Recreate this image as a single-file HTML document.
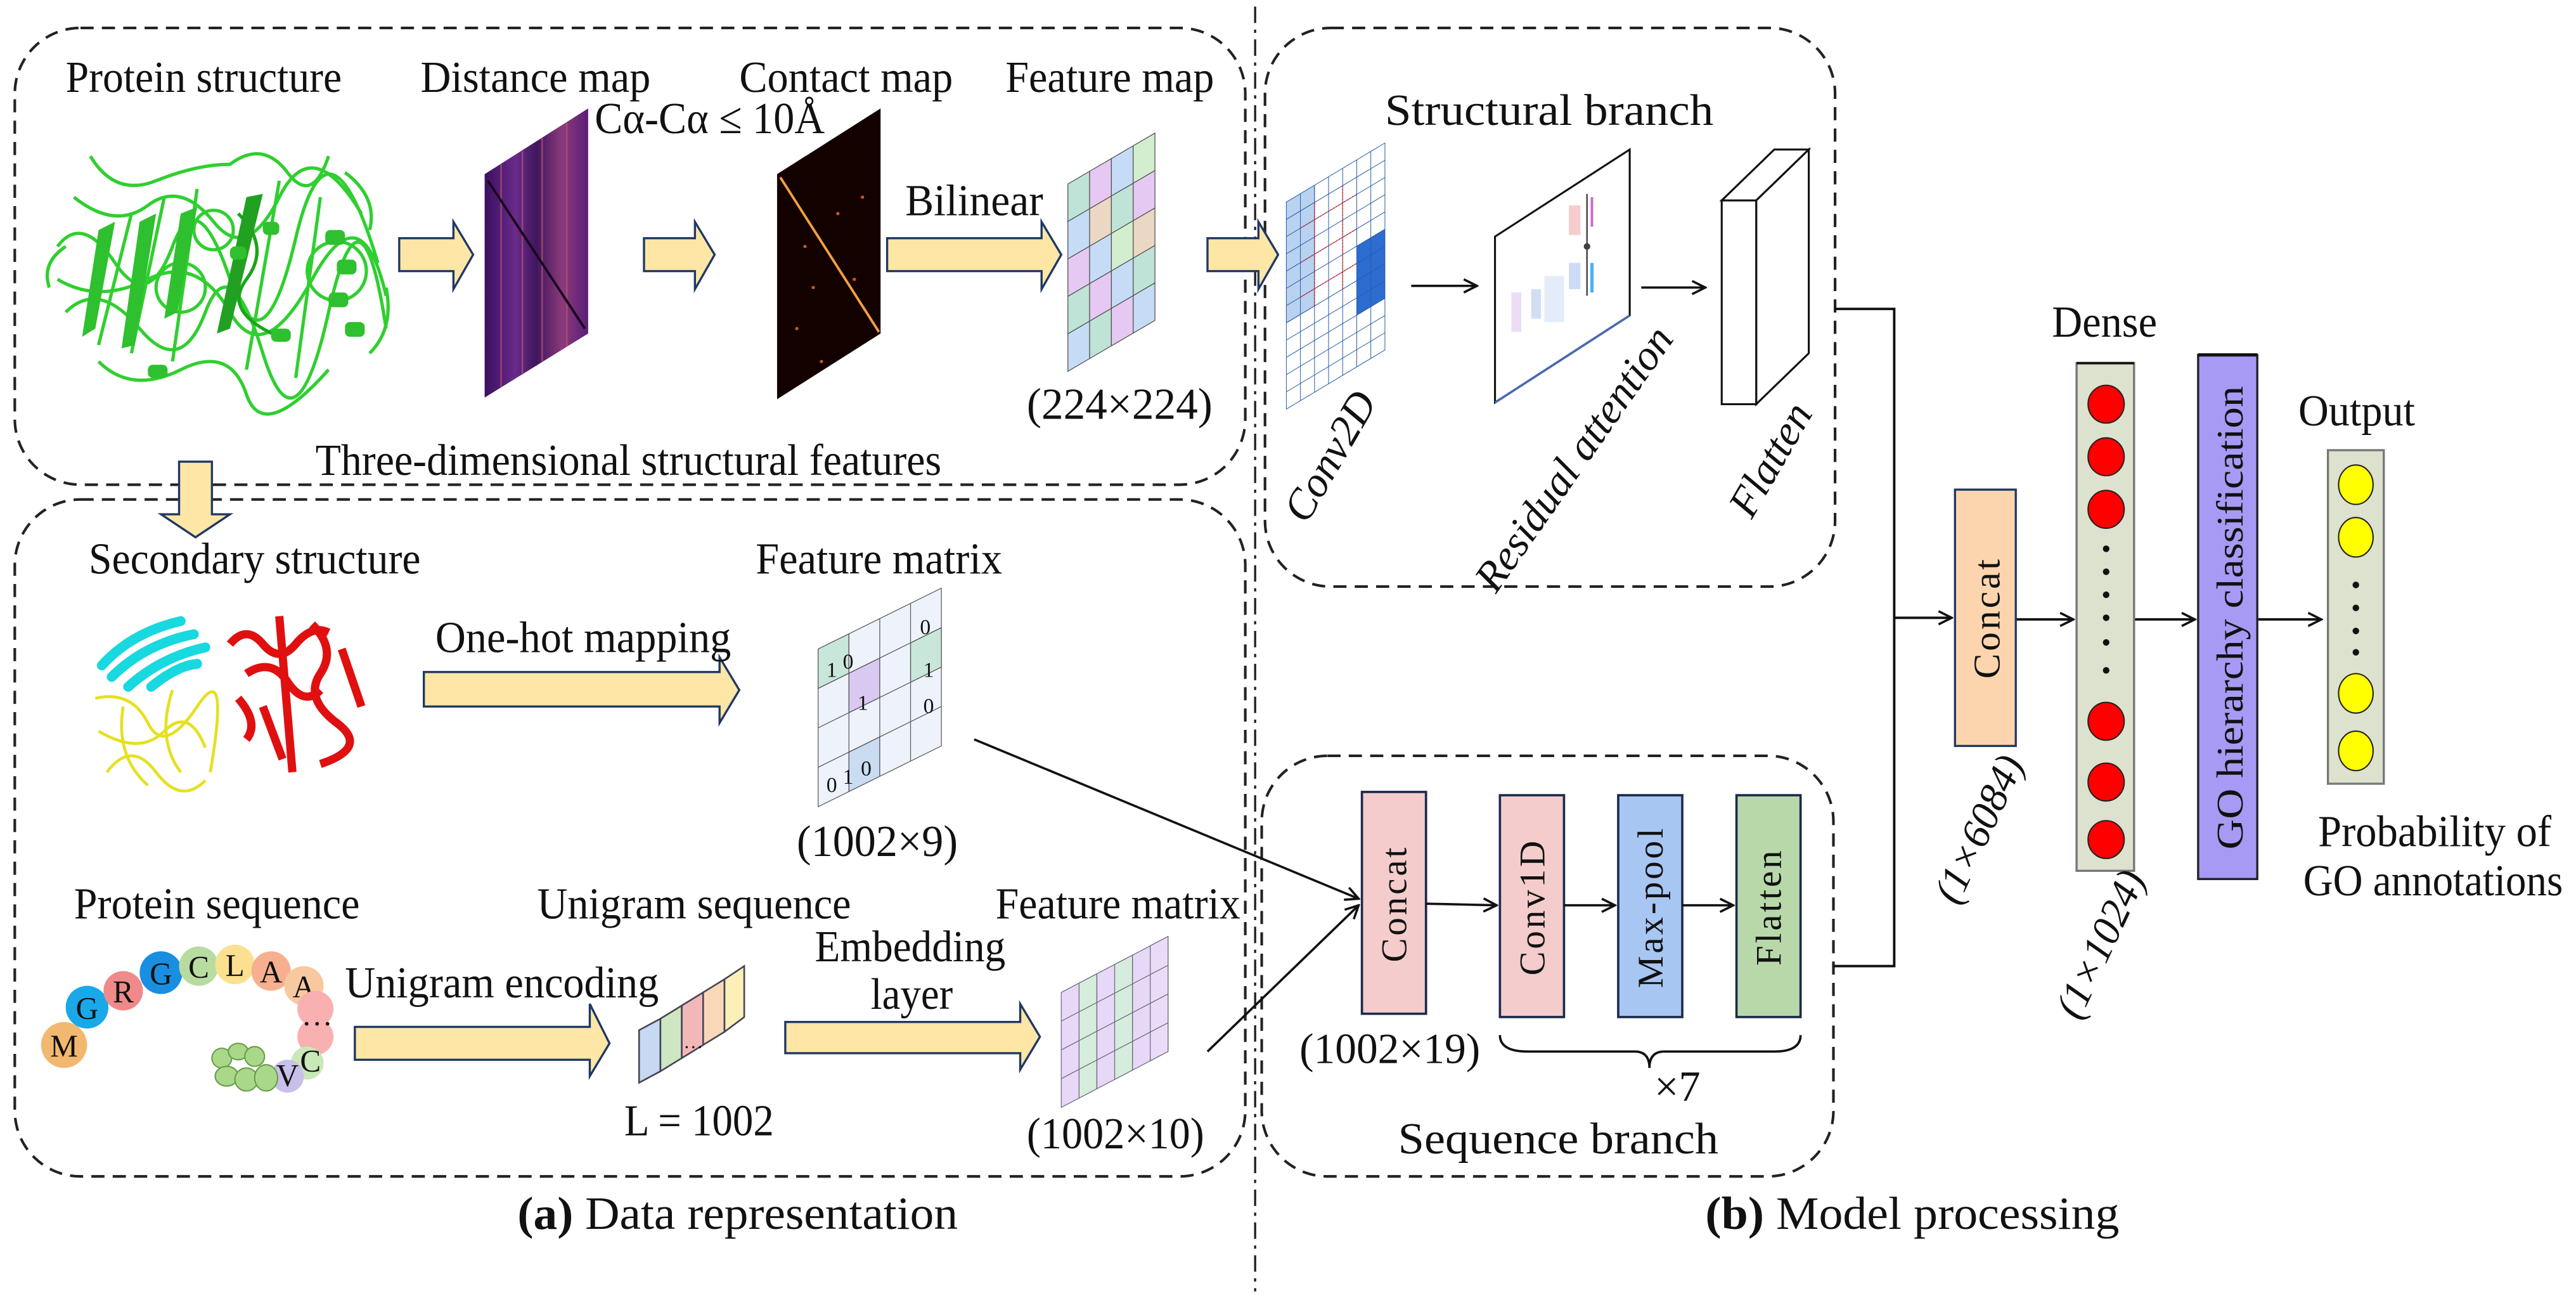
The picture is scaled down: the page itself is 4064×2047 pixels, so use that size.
<!DOCTYPE html>
<html><head><meta charset="utf-8"><style>
html,body{margin:0;padding:0;background:#fff;}
svg{display:block;}
text{font-family:"Liberation Serif",serif;fill:#111;}
</style></head><body>
<svg width="4064" height="2047" viewBox="0 0 1568 790" preserveAspectRatio="none" xmlns="http://www.w3.org/2000/svg">
<defs>
<marker id="ah" markerWidth="10" markerHeight="10" refX="9" refY="5" orient="auto" markerUnits="userSpaceOnUse">
<path d="M1,1 L9,5 L1,9" fill="none" stroke="#111" stroke-width="1.4"/></marker>
<linearGradient id="dist" x1="0" y1="0" x2="1" y2="0">
<stop offset="0" stop-color="#3a1060"/><stop offset="0.3" stop-color="#6a2a8a"/><stop offset="0.5" stop-color="#40165e"/><stop offset="0.75" stop-color="#8a3a7a"/><stop offset="1" stop-color="#5a1e78"/></linearGradient>
</defs>
<rect width="1568" height="790" fill="#fff"/>

<g fill="none" stroke="#222" stroke-width="1.6" stroke-dasharray="8 5">
<rect x="9" y="17" width="749" height="278" rx="40"/>
<rect x="9" y="304" width="749" height="412" rx="40"/>
<rect x="770" y="17" width="347" height="340" rx="40"/>
<rect x="768" y="460" width="348" height="256" rx="40"/>
</g>
<line x1="764" y1="4" x2="764" y2="786" stroke="#222" stroke-width="1.3" stroke-dasharray="10 4 2 4"/>

<text x="40" y="56" font-size="27" textLength="168" lengthAdjust="spacingAndGlyphs">Protein structure</text>
<text x="256" y="56" font-size="27" textLength="140" lengthAdjust="spacingAndGlyphs">Distance map</text>
<text x="450" y="56" font-size="27" textLength="130" lengthAdjust="spacingAndGlyphs">Contact map</text>
<text x="612" y="56" font-size="27" textLength="127" lengthAdjust="spacingAndGlyphs">Feature map</text>
<text x="362" y="81" font-size="27" textLength="140" lengthAdjust="spacingAndGlyphs">Cα-Cα ≤ 10Å</text>
<text x="551" y="131" font-size="27" textLength="84" lengthAdjust="spacingAndGlyphs">Bilinear</text>
<text x="625" y="255" font-size="27" textLength="113" lengthAdjust="spacingAndGlyphs">(224×224)</text>
<text x="192" y="289" font-size="27" textLength="381" lengthAdjust="spacingAndGlyphs">Three-dimensional structural features</text>

<g fill="none" stroke="#2fcf2f" stroke-width="2">
<path d="M55 95 Q70 120 95 110 T140 100 Q160 85 175 105 T200 95"/>
<path d="M35 150 Q50 130 70 160 T105 150 T140 170 T180 145 T230 160"/>
<path d="M40 190 Q60 170 85 200 T125 190 T160 215 T200 190 T235 200"/>
<path d="M60 220 Q80 240 110 225 T150 240 T200 225"/>
<path d="M45 120 Q70 140 90 125 T130 135 T170 120 T220 130"/>
<path d="M35 170 Q60 185 90 170 T140 190 T190 170 T235 180"/>
<path d="M80 130 L60 210 M100 120 L80 215 M120 115 L105 220 M170 110 L150 225 M195 120 L180 230"/>
<path d="M145 130 Q165 150 150 170 T170 205" stroke="#1aa51a"/>
<circle cx="205" cy="165" r="18"/><circle cx="110" cy="175" r="15"/><circle cx="130" cy="140" r="12"/>
<path d="M30 175 Q25 160 40 150 M210 105 Q230 120 225 140 M235 175 Q240 200 225 215"/>
</g>
<g fill="#2ec02e">
<rect x="198" y="140" width="12" height="9" rx="3"/><rect x="205" y="158" width="12" height="9" rx="3"/><rect x="200" y="178" width="12" height="9" rx="3"/><rect x="210" y="196" width="12" height="9" rx="3"/>
<path d="M60 140 L70 135 L58 200 L50 205Z"/><path d="M85 135 L95 130 L82 210 L74 212Z"/><path d="M150 120 L160 118 L140 200 L132 203Z" fill="#22a022"/>
<path d="M110 130 L120 126 L108 190 L100 194Z"/>
<rect x="140" y="150" width="10" height="8" rx="3"/><rect x="160" y="135" width="10" height="8" rx="3"/><rect x="165" y="200" width="12" height="8" rx="3"/><rect x="90" y="222" width="12" height="8" rx="3"/>
</g>

<g fill="#fde6a6" stroke="#1f3864" stroke-width="1.3">
<path d="M243 145 H276 V135 L288 155 L276 176 V165 H243Z"/>
<path d="M392 145 H423 V135 L435 155 L423 176 V165 H392Z"/>
<path d="M540 145 H634 V135 L646 155 L634 176 V165 H540Z"/>
<path d="M735 145 H766 V135 L778 155 L766 176 V165 H735Z"/>
<path d="M109 281 H129 V313 H140 L119 327 L98 313 H109Z"/>
<path d="M258 409 H438 V400 L450 420 L438 440 V430 H258Z"/>
<path d="M216 625 H359 V611 L371 635 L359 655 V645 H216Z"/>
<path d="M478 622 H621 V611 L633 631 L621 651 V641 H478Z"/>
</g>

<polygon points="295,106 358,66 358,203 295,242" fill="url(#dist)"/>
<g stroke="#c05a70" stroke-width="1" opacity="0.6">
<line x1="305" y1="100" x2="305" y2="236"/><line x1="318" y1="92" x2="318" y2="228"/><line x1="330" y1="84" x2="330" y2="220"/><line x1="345" y1="75" x2="345" y2="211"/></g>
<line x1="297" y1="110" x2="356" y2="200" stroke="#1a0520" stroke-width="1.5"/>
<polygon points="473,106 536,66 536,203 473,243" fill="#130100"/>
<line x1="475" y1="108" x2="535" y2="202" stroke="#f4a040" stroke-width="1.5"/>
<g fill="#d05a10"><circle cx="490" cy="150" r="1"/><circle cx="510" cy="130" r="1"/><circle cx="520" cy="170" r="1"/><circle cx="485" cy="200" r="1"/><circle cx="500" cy="220" r="1"/><circle cx="525" cy="120" r="1"/><circle cx="495" cy="175" r="1"/></g>

<g transform="matrix(13.25,-7.75,0,22.8,650,112)" stroke="#555" stroke-width="1.3">
<rect x="0" y="0" width="1" height="1" fill="#bfe3d6" vector-effect="non-scaling-stroke"/><rect x="1" y="0" width="1" height="1" fill="#e6c9f2" vector-effect="non-scaling-stroke"/><rect x="2" y="0" width="1" height="1" fill="#c6dcf6" vector-effect="non-scaling-stroke"/><rect x="3" y="0" width="1" height="1" fill="#d2eecf" vector-effect="non-scaling-stroke"/>
<rect x="0" y="1" width="1" height="1" fill="#c6dcf6" vector-effect="non-scaling-stroke"/><rect x="1" y="1" width="1" height="1" fill="#ead8c4" vector-effect="non-scaling-stroke"/><rect x="2" y="1" width="1" height="1" fill="#bfe3d6" vector-effect="non-scaling-stroke"/><rect x="3" y="1" width="1" height="1" fill="#e6c9f2" vector-effect="non-scaling-stroke"/>
<rect x="0" y="2" width="1" height="1" fill="#e6c9f2" vector-effect="non-scaling-stroke"/><rect x="1" y="2" width="1" height="1" fill="#c6dcf6" vector-effect="non-scaling-stroke"/><rect x="2" y="2" width="1" height="1" fill="#d2eecf" vector-effect="non-scaling-stroke"/><rect x="3" y="2" width="1" height="1" fill="#ead8c4" vector-effect="non-scaling-stroke"/>
<rect x="0" y="3" width="1" height="1" fill="#bfe3d6" vector-effect="non-scaling-stroke"/><rect x="1" y="3" width="1" height="1" fill="#e6c9f2" vector-effect="non-scaling-stroke"/><rect x="2" y="3" width="1" height="1" fill="#c6dcf6" vector-effect="non-scaling-stroke"/><rect x="3" y="3" width="1" height="1" fill="#bfe3d6" vector-effect="non-scaling-stroke"/>
<rect x="0" y="4" width="1" height="1" fill="#c6dcf6" vector-effect="non-scaling-stroke"/><rect x="1" y="4" width="1" height="1" fill="#bfe3d6" vector-effect="non-scaling-stroke"/><rect x="2" y="4" width="1" height="1" fill="#e6c9f2" vector-effect="non-scaling-stroke"/><rect x="3" y="4" width="1" height="1" fill="#c6dcf6" vector-effect="non-scaling-stroke"/>
</g>

<text x="54" y="349" font-size="27" textLength="202" lengthAdjust="spacingAndGlyphs">Secondary structure</text>
<text x="460" y="349" font-size="27" textLength="150" lengthAdjust="spacingAndGlyphs">Feature matrix</text>
<text x="265" y="397" font-size="27" textLength="180" lengthAdjust="spacingAndGlyphs">One-hot mapping</text>
<g fill="none" stroke="#18d8e0" stroke-width="6" stroke-linecap="round">
<path d="M62 405 Q80 385 110 378"/><path d="M68 412 Q88 392 118 386"/><path d="M78 418 Q98 400 125 394"/><path d="M92 418 Q108 405 120 404"/></g>
<g fill="none" stroke="#e01010" stroke-width="5">
<path d="M140 392 Q150 380 160 392 T180 392 T200 385" /><path d="M170 375 L178 470"/><path d="M190 380 Q205 395 195 410 T205 440 T195 465"/><path d="M150 410 Q165 400 175 415 T195 420"/><path d="M160 430 L172 462"/><path d="M208 395 L220 430"/><path d="M145 425 Q158 440 150 450"/></g>
<g fill="none" stroke="#e6e020" stroke-width="1.8">
<path d="M58 425 Q80 420 90 440 T120 430 T128 470"/><path d="M60 445 Q85 460 100 445 T125 455"/><path d="M65 470 Q80 450 95 470 T125 475"/><path d="M75 430 Q70 460 90 478"/><path d="M105 420 Q95 450 110 470"/></g>

<g transform="matrix(18.75,-9.25,0,24,498,395)">
<g fill="#eef2fb" stroke="#555" stroke-width="1.2">
<rect x="0" y="0" width="4" height="4" vector-effect="non-scaling-stroke"/>
<rect x="0" y="0" width="1" height="1" fill="#c9e6da" vector-effect="non-scaling-stroke"/><rect x="1" y="1" width="1" height="1" fill="#d9c9f0" vector-effect="non-scaling-stroke"/><rect x="3" y="1" width="1" height="1" fill="#c9e6da" vector-effect="non-scaling-stroke"/><rect x="1" y="3" width="1" height="1" fill="#c9dcf2" vector-effect="non-scaling-stroke"/>
<line x1="1" y1="0" x2="1" y2="4" vector-effect="non-scaling-stroke"/><line x1="2" y1="0" x2="2" y2="4" vector-effect="non-scaling-stroke"/><line x1="3" y1="0" x2="3" y2="4" vector-effect="non-scaling-stroke"/>
<line x1="0" y1="1" x2="4" y2="1" vector-effect="non-scaling-stroke"/><line x1="0" y1="2" x2="4" y2="2" vector-effect="non-scaling-stroke"/><line x1="0" y1="3" x2="4" y2="3" vector-effect="non-scaling-stroke"/>
</g></g>
<g font-size="13">
<text x="503" y="412">1</text><text x="513" y="407">0</text><text x="560" y="386">0</text>
<text x="522" y="432">1</text><text x="562" y="412">1</text><text x="562" y="434">0</text>
<text x="503" y="482">0</text><text x="513" y="477">1</text><text x="524" y="472">0</text></g>
<text x="485" y="521" font-size="27" textLength="98" lengthAdjust="spacingAndGlyphs">(1002×9)</text>

<text x="45" y="559" font-size="27" textLength="174" lengthAdjust="spacingAndGlyphs">Protein sequence</text>
<text x="327" y="559" font-size="27" textLength="191" lengthAdjust="spacingAndGlyphs">Unigram sequence</text>
<text x="606" y="559" font-size="27" textLength="149" lengthAdjust="spacingAndGlyphs">Feature matrix</text>
<text x="496" y="585" font-size="27" textLength="116" lengthAdjust="spacingAndGlyphs">Embedding</text>
<text x="530" y="614" font-size="27" textLength="50" lengthAdjust="spacingAndGlyphs">layer</text>
<text x="210" y="607" font-size="27" textLength="191" lengthAdjust="spacingAndGlyphs">Unigram encoding</text>
<text x="380" y="691" font-size="27" textLength="91" lengthAdjust="spacingAndGlyphs">L = 1002</text>
<text x="625" y="699" font-size="27" textLength="108" lengthAdjust="spacingAndGlyphs">(1002×10)</text>

<g font-size="19" text-anchor="middle">
<circle cx="39" cy="636" r="14" fill="#f2b870"/><text x="39" y="643">M</text>
<circle cx="53" cy="613" r="13" fill="#1aa8e8"/><text x="53" y="620">G</text>
<circle cx="75" cy="603" r="12" fill="#f08a8a"/><text x="75" y="610">R</text>
<circle cx="98" cy="592" r="13" fill="#1a8ee0"/><text x="98" y="599">G</text>
<circle cx="121" cy="588" r="12" fill="#b8dca0"/><text x="121" y="595">C</text>
<circle cx="143" cy="587" r="12" fill="#fbe090"/><text x="143" y="594">L</text>
<circle cx="165" cy="591" r="12" fill="#f6b090"/><text x="165" y="598">A</text>
<circle cx="185" cy="600" r="12" fill="#f8c8a0"/><text x="185" y="607">A</text>
<circle cx="192" cy="614" r="11" fill="#f8b0b0"/>
<circle cx="192" cy="631" r="11" fill="#f8b0b0"/><text x="193" y="624">…</text>
<circle cx="187" cy="647" r="10" fill="#c8e8b8"/><text x="189" y="652">C</text>
<circle cx="175" cy="655" r="10" fill="#c8c0e8"/><text x="175" y="661">V</text>
</g>
<g fill="#a8d888" stroke="#6a9a4a" stroke-width="0.8">
<ellipse cx="135" cy="644" rx="6" ry="6"/><ellipse cx="145" cy="640" rx="6" ry="5"/><ellipse cx="155" cy="643" rx="6" ry="6"/><ellipse cx="138" cy="655" rx="7" ry="6"/><ellipse cx="150" cy="657" rx="7" ry="7"/><ellipse cx="162" cy="656" rx="7" ry="8"/></g>

<g stroke="#445" stroke-width="1">
<polygon points="389,627 402,620 402,652 389,659" fill="#c6d8f2"/>
<polygon points="402,620 415,612 415,644 402,652" fill="#cfe6c2"/>
<polygon points="415,612 428,604 428,636 415,644" fill="#f2b8b8"/>
<polygon points="428,604 441,596 441,628 428,636" fill="#f8d8b8"/>
<polygon points="441,596 453,588 453,619 441,628" fill="#fbf0b8"/>
</g>
<text x="416" y="638" font-size="12">…</text>

<g transform="matrix(10.83,-5.67,0,17.5,646,604)">
<g fill="#e6d8f6" stroke="#667" stroke-width="1.2">
<rect x="0" y="0" width="6" height="4" vector-effect="non-scaling-stroke"/>
<rect x="1" y="0" width="1" height="4" fill="#d6ecdc" vector-effect="non-scaling-stroke"/><rect x="3" y="0" width="1" height="4" fill="#d6ecdc" vector-effect="non-scaling-stroke"/><rect x="5" y="0" width="1" height="4" fill="#eadcf8" vector-effect="non-scaling-stroke"/>
<line x1="2" y1="0" x2="2" y2="4" vector-effect="non-scaling-stroke"/><line x1="4" y1="0" x2="4" y2="4" vector-effect="non-scaling-stroke"/>
<line x1="0" y1="1" x2="6" y2="1" vector-effect="non-scaling-stroke"/><line x1="0" y1="2" x2="6" y2="2" vector-effect="non-scaling-stroke"/><line x1="0" y1="3" x2="6" y2="3" vector-effect="non-scaling-stroke"/>
</g></g>

<text x="315" y="748" font-size="28" textLength="268" lengthAdjust="spacingAndGlyphs"><tspan font-weight="bold">(a)</tspan> Data representation</text>

<text x="843" y="76" font-size="27" textLength="200" lengthAdjust="spacingAndGlyphs">Structural branch</text>
<g transform="matrix(8.57,-5.14,0,10.5,783,123)">
<g fill="#fff" stroke="#2a5ca8" stroke-width="1">
<rect x="0" y="0" width="7" height="12" vector-effect="non-scaling-stroke"/>
<rect x="0" y="0" width="2" height="7" fill="#b8d2f0" vector-effect="non-scaling-stroke"/>
<rect x="5" y="5" width="2" height="4" fill="#2d6cd0" vector-effect="non-scaling-stroke"/>
<line x1="1" y1="0" x2="1" y2="12" vector-effect="non-scaling-stroke"/><line x1="2" y1="0" x2="2" y2="12" vector-effect="non-scaling-stroke"/><line x1="3" y1="0" x2="3" y2="12" vector-effect="non-scaling-stroke"/><line x1="4" y1="0" x2="4" y2="12" vector-effect="non-scaling-stroke"/><line x1="5" y1="0" x2="5" y2="12" vector-effect="non-scaling-stroke"/><line x1="6" y1="0" x2="6" y2="12" vector-effect="non-scaling-stroke"/>
<line x1="0" y1="1" x2="7" y2="1" vector-effect="non-scaling-stroke"/><line x1="0" y1="2" x2="7" y2="2" vector-effect="non-scaling-stroke"/><line x1="0" y1="3" x2="7" y2="3" vector-effect="non-scaling-stroke"/><line x1="0" y1="4" x2="7" y2="4" vector-effect="non-scaling-stroke"/><line x1="0" y1="5" x2="7" y2="5" vector-effect="non-scaling-stroke"/><line x1="0" y1="6" x2="7" y2="6" vector-effect="non-scaling-stroke"/><line x1="0" y1="7" x2="7" y2="7" vector-effect="non-scaling-stroke"/><line x1="0" y1="8" x2="7" y2="8" vector-effect="non-scaling-stroke"/><line x1="0" y1="9" x2="7" y2="9" vector-effect="non-scaling-stroke"/><line x1="0" y1="10" x2="7" y2="10" vector-effect="non-scaling-stroke"/><line x1="0" y1="11" x2="7" y2="11" vector-effect="non-scaling-stroke"/>
</g>
<g fill="none" stroke="#e02020" stroke-width="1.5" stroke-dasharray="3 2">
<path d="M1 2 L5 2 M1 4 L5 4 M1 6 L5 6 M2 1 L2 7 M4 1 L4 7" vector-effect="non-scaling-stroke"/></g>
</g>
<line x1="859" y1="174" x2="899" y2="174" stroke="#111" stroke-width="1.4" marker-end="url(#ah)"/>
<polygon points="910,144 992,91 992,192 910,245" fill="#fff" stroke="#111" stroke-width="1.2"/>
<line x1="910" y1="245" x2="992" y2="192" stroke="#4a6ab0" stroke-width="1.4"/>
<g opacity="0.8">
<rect x="955" y="125" width="7" height="18" fill="#f4c0c0"/><rect x="955" y="160" width="7" height="16" fill="#c0d4f4"/>
<rect x="920" y="178" width="6" height="24" fill="#e6d4f0"/><rect x="932" y="176" width="6" height="18" fill="#c8d8f0"/>
<rect x="940" y="168" width="12" height="28" fill="#dfe8f8"/>
<line x1="966" y1="118" x2="966" y2="180" stroke="#222" stroke-width="1"/><circle cx="966" cy="150" r="2" fill="#111"/>
<line x1="969" y1="160" x2="969" y2="178" stroke="#1aa0f0" stroke-width="2"/><line x1="969" y1="120" x2="969" y2="138" stroke="#c040c0" stroke-width="1.5"/>
</g>
<line x1="999" y1="175" x2="1038" y2="175" stroke="#111" stroke-width="1.4" marker-end="url(#ah)"/>
<g fill="#fff" stroke="#111" stroke-width="1.2">
<polygon points="1048,122 1069,122 1101,91 1080,91"/>
<polygon points="1069,122 1101,91 1101,215 1069,246"/>
<rect x="1048" y="122" width="21" height="124"/>
</g>
<text transform="translate(817,282) rotate(-60)" font-size="26" text-anchor="middle" font-style="italic">Conv2D</text>
<text transform="translate(965,284) rotate(-55)" font-size="26" text-anchor="middle" font-style="italic">Residual attention</text>
<text transform="translate(1085,284) rotate(-60)" font-size="26" text-anchor="middle" font-style="italic">Flatten</text>

<g stroke="#1a2a4a" stroke-width="1.4">
<rect x="829" y="482" width="39" height="135" fill="#f4cccc"/>
<rect x="913" y="484" width="39" height="135" fill="#f4cccc"/>
<rect x="985" y="484" width="39" height="135" fill="#a8c6f2"/>
<rect x="1057" y="484" width="39" height="135" fill="#b8d8aa"/>
</g>
<g font-size="22" text-anchor="middle" letter-spacing="1.5">
<text transform="translate(856,550) rotate(-90)">Concat</text>
<text transform="translate(940,552) rotate(-90)">Conv1D</text>
<text transform="translate(1012,552) rotate(-90)">Max-pool</text>
<text transform="translate(1084,552) rotate(-90)">Flatten</text>
</g>
<g stroke="#111" stroke-width="1.4" fill="none">
<line x1="868" y1="550" x2="911" y2="551" marker-end="url(#ah)"/>
<line x1="952" y1="551" x2="983" y2="551" marker-end="url(#ah)"/>
<line x1="1024" y1="551" x2="1055" y2="551" marker-end="url(#ah)"/>
<line x1="593" y1="450" x2="827" y2="547" marker-end="url(#ah)"/>
<line x1="735" y1="640" x2="827" y2="551" marker-end="url(#ah)"/>
<path d="M913 630 Q913 640 930 640 H995 Q1004 640 1004 650 Q1004 640 1013 640 H1080 Q1096 640 1096 630"/>
</g>
<text x="791" y="647" font-size="26" textLength="110" lengthAdjust="spacingAndGlyphs">(1002×19)</text>
<text x="1007" y="670" font-size="26" textLength="28" lengthAdjust="spacingAndGlyphs">×7</text>
<text x="851" y="702" font-size="27" textLength="195" lengthAdjust="spacingAndGlyphs">Sequence branch</text>
<text x="1038" y="748" font-size="28" textLength="252" lengthAdjust="spacingAndGlyphs"><tspan font-weight="bold">(b)</tspan> Model processing</text>

<g stroke="#111" stroke-width="1.5" fill="none">
<path d="M1117 188 H1153 V588 H1116"/>
<line x1="1153" y1="376" x2="1188" y2="376" marker-end="url(#ah)"/>
<line x1="1227" y1="377" x2="1262" y2="377" marker-end="url(#ah)"/>
<line x1="1299" y1="377" x2="1336" y2="377" marker-end="url(#ah)"/>
<line x1="1374" y1="377" x2="1413" y2="377" marker-end="url(#ah)"/>
</g>

<rect x="1190" y="298" width="37" height="156" fill="#fcd5ae" stroke="#1f3864" stroke-width="1.3"/>
<text transform="translate(1217,376) rotate(-90)" font-size="23" text-anchor="middle" letter-spacing="1.5">Concat</text>
<text transform="translate(1212,508) rotate(-65)" font-size="25" text-anchor="middle" font-style="italic">(1×6084)</text>

<text x="1249" y="205" font-size="27" textLength="64" lengthAdjust="spacingAndGlyphs">Dense</text>
<rect x="1264" y="221" width="35" height="309" fill="#dde2cf" stroke="#777" stroke-width="1.3"/>
<line x1="1264" y1="221" x2="1299" y2="221" stroke="#111" stroke-width="1.5"/>
<g fill="#ff0000" stroke="#222" stroke-width="0.8">
<ellipse cx="1282" cy="246" rx="11" ry="11.5"/><ellipse cx="1282" cy="278" rx="11" ry="11.5"/><ellipse cx="1282" cy="310" rx="11" ry="11.5"/>
<ellipse cx="1282" cy="439" rx="11" ry="11.5"/><ellipse cx="1282" cy="476" rx="11" ry="11.5"/><ellipse cx="1282" cy="511" rx="11" ry="11.5"/>
</g>
<g fill="#111"><circle cx="1282" cy="334" r="2"/><circle cx="1282" cy="348" r="2"/><circle cx="1282" cy="362" r="2"/><circle cx="1282" cy="376" r="2"/><circle cx="1282" cy="391" r="2"/><circle cx="1282" cy="408" r="2"/></g>
<text transform="translate(1286,578) rotate(-65)" font-size="25" text-anchor="middle" font-style="italic">(1×1024)</text>

<rect x="1338" y="216" width="36" height="319" fill="#a79af4" stroke="#222" stroke-width="1.3"/>
<line x1="1338" y1="216" x2="1374" y2="216" stroke="#111" stroke-width="2"/>
<text transform="translate(1365,376) rotate(-90)" font-size="23" text-anchor="middle" textLength="282" lengthAdjust="spacingAndGlyphs">GO hierarchy classification</text>

<text x="1399" y="259" font-size="27" textLength="71" lengthAdjust="spacingAndGlyphs">Output</text>
<rect x="1417" y="274" width="34" height="203" fill="#dde2cf" stroke="#777" stroke-width="1.3"/>
<g fill="#ffff00" stroke="#222" stroke-width="0.8">
<ellipse cx="1434" cy="295" rx="10.5" ry="12"/><ellipse cx="1434" cy="327" rx="10.5" ry="12"/>
<ellipse cx="1434" cy="422" rx="10.5" ry="12"/><ellipse cx="1434" cy="457" rx="10.5" ry="12"/>
</g>
<g fill="#111"><circle cx="1434" cy="356" r="2"/><circle cx="1434" cy="370" r="2"/><circle cx="1434" cy="384" r="2"/><circle cx="1434" cy="397" r="2"/></g>
<text x="1411" y="515" font-size="27" textLength="142" lengthAdjust="spacingAndGlyphs">Probability of</text>
<text x="1402" y="545" font-size="27" textLength="158" lengthAdjust="spacingAndGlyphs">GO annotations</text>
</svg>
</body></html>
